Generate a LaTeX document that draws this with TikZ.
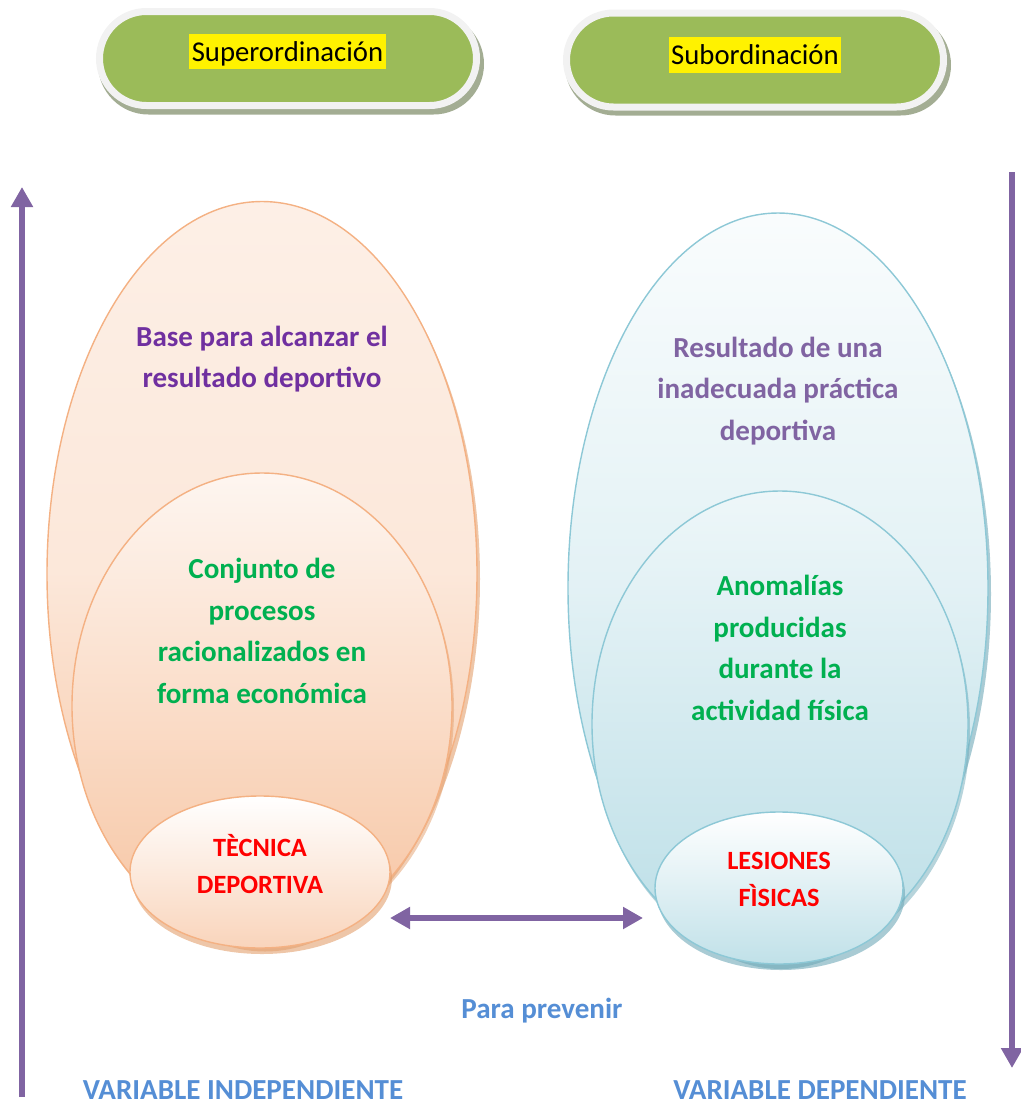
\documentclass[tikz,border=0pt]{standalone}
\usepackage{fontspec}
\setmainfont{Carlito}
\usetikzlibrary{shapes.geometric,shapes.misc,arrows.meta}
\definecolor{pillgreen}{HTML}{9BBB59}
\definecolor{pillrim}{HTML}{F2F2F2}
\definecolor{pillshadow}{HTML}{A3AD93}
\definecolor{arrowpurple}{HTML}{8064A2}
\definecolor{txtpurple}{HTML}{7030A0}
\definecolor{txtgreen}{HTML}{00B050}
\definecolor{txtblue}{HTML}{558ED5}
\definecolor{orline}{HTML}{F4B183}
\definecolor{orshadow}{HTML}{E3A06E}
\definecolor{blline}{HTML}{8DC8D6}
\definecolor{blshadow}{HTML}{6FA9B8}
\begin{document}
\begin{tikzpicture}[x=0.03cm,y=-0.03cm,
  ell/.style 2 args={ellipse, minimum width=#1*0.03cm, minimum height=#2*0.03cm, inner sep=0pt},
  orell/.style={draw=orline, line width=1.2pt},
  blell/.style={draw=blline, line width=1.2pt},
  pill/.style={rounded rectangle, minimum width=377*0.03cm, minimum height=94*0.03cm, inner sep=0pt,
    fill=pillgreen, draw=pillrim, line width=7*0.03cm},
  pillshd/.style={rounded rectangle, minimum width=386*0.03cm, minimum height=101*0.03cm, inner sep=0pt,
    fill=pillshadow},
  hl/.style={fill=yellow, inner xsep=2pt, inner ysep=0pt, text height=23.5pt, text depth=7pt,
    font=\fontsize{24.5}{29}\selectfont},
  txt/.style={align=center, font=\bfseries\fontsize{24.8}{35.5}\selectfont, inner sep=0pt},
  redtxt/.style={align=center, text=red, font=\bfseries\fontsize{22.5}{31.5}\selectfont, inner sep=0pt},
  bigarrow/.style={draw=arrowpurple, line width=6.5*0.03cm},
  tip/.tip={Triangle[length=20*0.03cm, width=21*0.03cm]}
]
\useasboundingbox (0,0) rectangle (1021,1106);

% pills
\node[pillshd] at (291,64) {};
\node[pill] (pL) at (288,58.5) {};
\node[hl] (sup) at (287.5,51.5) {Superordinación};
\node[pillshd] at (758,65) {};
\node[pill] (pR) at (755,60) {};
\node[hl] (sub) at (755,55) {Subordinación};

% left ellipses
\node[ell={430}{745}, fill=orshadow, opacity=0.6] at (265,579) {};
\node[ell={430}{745}, orell, top color=white!80!orline, bottom color=orline!80!white, middle color=orline!30!white] (LA) at (262,574) {};
\node[ell={380}{466}, fill=orshadow, opacity=0.5] at (264,710) {};
\node[ell={380}{466}, orell, top color=orline!12!white, bottom color=orline!75!white] (LB) at (262,706) {};
\node[ell={260}{152}, fill=orshadow, opacity=0.6] at (262,878) {};
\node[ell={260}{152}, orell, top color=white, bottom color=orline!55!white] (LC) at (260,872) {};

% right ellipses
\node[ell={420}{750}, fill=blshadow, opacity=0.6] at (781,594) {};
\node[ell={420}{750}, blell, top color=white!95!blline, bottom color=blline!65!white, middle color=blline!25!white] (RA) at (778,588) {};
\node[ell={376}{466}, fill=blshadow, opacity=0.5] at (782,729) {};
\node[ell={376}{466}, blell, top color=blline!15!white, bottom color=blline!60!white] (RB) at (780,724) {};
\node[ell={248}{152}, fill=blshadow, opacity=0.6] at (781,894) {};
\node[ell={248}{152}, blell, top color=white, bottom color=blline!55!white] (RC) at (779,888) {};

% texts
\node[txt, text=txtpurple] (t1) at (262,359) {Base para alcanzar el\\resultado deportivo};
\node[txt, text=txtgreen] (t2) at (262,631) {Conjunto de\\procesos\\racionalizados en\\forma económica};
\node[redtxt] (t3) at (260,864) {TÈCNICA\\DEPORTIVA};
\node[txt, text=arrowpurple] (t4) at (778,391) {Resultado de una\\inadecuada práctica\\deportiva};
\node[txt, text=txtgreen] (t5) at (780,648) {Anomalías\\producidas\\durante la\\actividad física};
\node[redtxt] (t6) at (779,879) {LESIONES\\FÌSICAS};
\node[txt, text=txtblue] (pp) at (542,1011) {Para prevenir};
\node[txt, text=txtblue] (vi) at (243,1090) {VARIABLE INDEPENDIENTE};
\node[txt, text=txtblue] (vd) at (820,1090) {VARIABLE DEPENDIENTE};

% arrows
\coordinate (hA) at (390,918);
\coordinate (hB) at (643,918);
\coordinate (lA) at (22,1097);
\coordinate (lB) at (22,187);
\coordinate (rA) at (1012,172);
\coordinate (rB) at (1012,1068);
\draw[bigarrow, {tip}-{tip}] (hA) -- (hB);
\draw[bigarrow, -{tip}] (lA) -- (lB);
\draw[bigarrow, -{tip}] (rA) -- (rB);
\end{tikzpicture}
\end{document}
